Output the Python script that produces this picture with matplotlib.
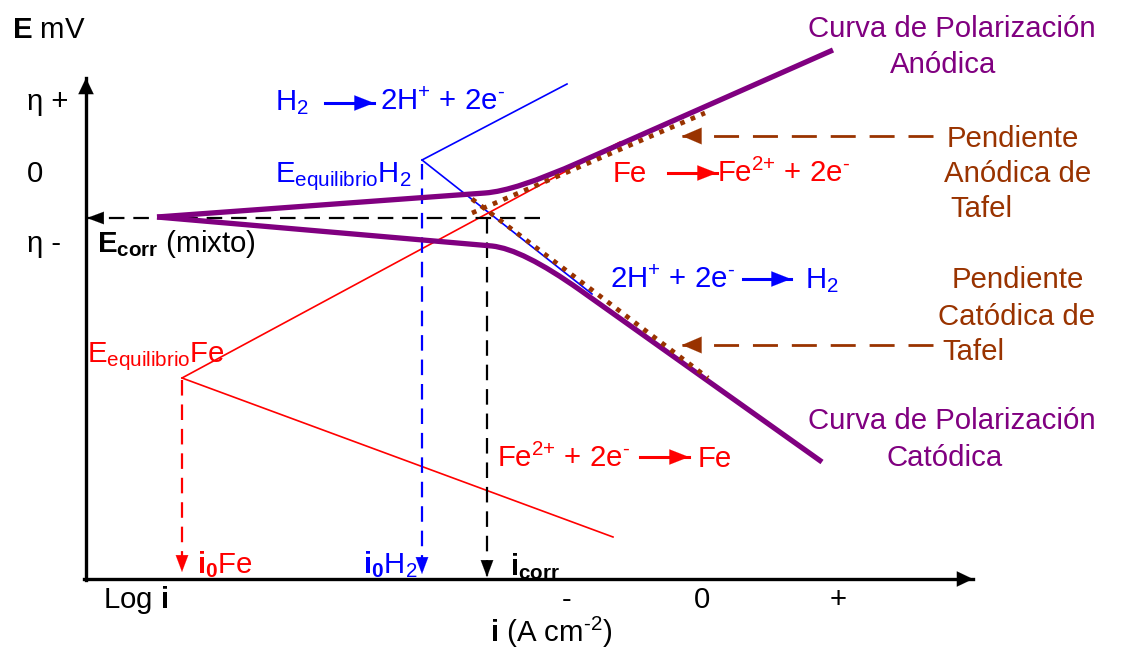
import matplotlib
matplotlib.use('Agg')
import matplotlib.pyplot as plt
from matplotlib.path import Path
from matplotlib.patches import PathPatch

plt.rcParams['font.family'] = ['Liberation Sans', 'DejaVu Sans']
plt.rcParams['mathtext.fontset'] = 'custom'
plt.rcParams['mathtext.rm'] = 'Liberation Sans'
plt.rcParams['mathtext.it'] = 'Liberation Sans:italic'
plt.rcParams['mathtext.bf'] = 'Liberation Sans:bold'

# Evans diagram, in picture units (x = log i to the right, y = E, downward)
anodic_x = [157, 485, 515, 580, 833]
anodic_y = [217, 193, 191, 162, 50]
cathodic_x = [157, 492, 522, 580, 822]
cathodic_y = [217, 246, 249, 290, 462]
h2_anodic_x = [422, 567]
h2_anodic_y = [160, 84]
h2_cathodic_x = [422, 592]
h2_cathodic_y = [160, 294]
fe_anodic_x = [182, 620]
fe_anodic_y = [378, 142]
fe_cathodic_x = [182, 613]
fe_cathodic_y = [378, 537]
tafel_an_x = [472, 705]
tafel_an_y = [213, 113]
tafel_cat_x = [472, 708]
tafel_cat_y = [199, 378]
e_corr = 218
i0_fe, i0_h2, i_corr = 182, 422, 487
x_ticks = ['-', '0', '+']
y_ticks = ['η +', '0', 'η -']

PURPLE = '#800080'
BROWN = '#993300'
FS = 21.2

fig = plt.figure(figsize=(11.27, 6.48), dpi=100)
ax = fig.add_axes([0, 0, 1, 1])
ax.set_xlim(0, 1127)
ax.set_ylim(648, 0)
ax.axis('off')


def arrow(x0, y0, x1, y1, color, lw=2.0, hl=1.1, hw=0.45, dashes=None, z=2):
    # shaft as a line, then a short solid arrow for the head
    line, = ax.plot([x0, x1], [y0, y1], color=color, lw=lw, zorder=z)
    if dashes:
        line.set_dashes(dashes)
    dx, dy = x1 - x0, y1 - y0
    n = (dx * dx + dy * dy) ** 0.5
    ax.annotate('', xy=(x1, y1), xytext=(x1 - dx / n * 3, y1 - dy / n * 3),
                arrowprops=dict(arrowstyle='-|>,head_length=%g,head_width=%g' % (hl, hw),
                                color=color, lw=0.1, shrinkA=0, shrinkB=0,
                                mutation_scale=10), zorder=z)


# axes
arrow(86, 580, 86, 78, 'black', lw=2.4, hl=1.15, hw=0.55)
arrow(84, 579, 973, 579, 'black', lw=2.4, hl=1.15, hw=0.55)

# thin Tafel lines
ax.plot(h2_anodic_x, h2_anodic_y, color='blue', lw=1.2)
ax.plot(h2_cathodic_x, h2_cathodic_y, color='blue', lw=1.2)
ax.plot(fe_anodic_x, fe_anodic_y, color='red', lw=1.2)
ax.plot(fe_cathodic_x, fe_cathodic_y, color='red', lw=1.2)

# dashed projections
arrow(540, e_corr, 87, e_corr, 'black', lw=1.6, hl=1.2, hw=0.45, dashes=(7, 4))
arrow(i_corr, e_corr, i_corr, 577, 'black', lw=1.6, hl=1.2, hw=0.45, dashes=(7, 4))
arrow(i0_h2, h2_anodic_y[0] + 4, i0_h2, 574, 'blue', lw=1.6, hl=1.2, hw=0.45, dashes=(7, 4))
arrow(i0_fe, fe_anodic_y[0] + 2, i0_fe, 572, 'red', lw=1.6, hl=1.2, hw=0.45, dashes=(7, 4))

# polarization curves
codes = [Path.MOVETO, Path.LINETO, Path.CURVE3, Path.CURVE3, Path.LINETO]
for xs, ys in [(anodic_x, anodic_y), (cathodic_x, cathodic_y)]:
    p = Path(list(zip(xs, ys)), codes)
    ax.add_patch(PathPatch(p, fill=False, edgecolor=PURPLE, lw=3.8, capstyle='butt', zorder=3))

# Tafel slope extrapolations (square dots)
for xs, ys in [(tafel_an_x, tafel_an_y), (tafel_cat_x, tafel_cat_y)]:
    ax.plot(xs, ys, color=BROWN, lw=3.4, ls=(0, (1, 1.4)), zorder=4)

# brown pointer arrows
arrow(933, 136, 682, 136, BROWN, lw=2.0, hl=1.4, hw=0.6, dashes=(9, 5))
arrow(933, 345, 682, 345, BROWN, lw=2.0, hl=1.4, hw=0.6, dashes=(9, 5))

# reaction arrows in labels
arrow(325, 103, 374, 103, 'blue', lw=2.2, hl=1.4, hw=0.55)
arrow(743, 279, 791, 279, 'blue', lw=2.2, hl=1.4, hw=0.55)
arrow(668, 173, 717, 173, 'red', lw=2.2, hl=1.4, hw=0.55)
arrow(640, 457, 689, 457, 'red', lw=2.2, hl=1.4, hw=0.55)


def txt(x, y, s, color='black', ha='left', **kw):
    ax.text(x, y, s, color=color, fontsize=FS, ha=ha, va='baseline', **kw)


# axis labels and ticks
txt(12, 38, r'$\mathbf{E}$ mV')
for lab, yb in zip(y_ticks, [110, 182, 252]):
    txt(27, yb, lab)
txt(97, 252, r'$\mathbf{E_{corr}}$ (mixto)')
txt(103, 608, r'Log $\mathbf{i}$')
for lab, xc in zip(x_ticks, [567, 702, 838]):
    txt(xc, 608, lab, ha='center')
txt(490, 642, r'$\mathbf{i}$ (A cm$^{\text{-2}}$)')

# reactions
txt(275, 110, r'H$_2$', color='blue')
txt(380, 110, r'2H$^{+}$ + 2e$^{\text{-}}$', color='blue')
txt(275, 182, r'E$_{\mathrm{equilibrio}}$H$_2$', color='blue')
txt(610, 288, r'2H$^{+}$ + 2e$^{\text{-}}$', color='blue')
txt(805, 288, r'H$_2$', color='blue')
txt(613, 182, 'Fe', color='red')
txt(717, 182, r'Fe$^{2{+}}$ + 2e$^{\text{-}}$', color='red')
txt(497, 467, r'Fe$^{2{+}}$ + 2e$^{\text{-}}$', color='red')
txt(698, 467, 'Fe', color='red')
txt(87, 362, r'E$_{\mathrm{equilibrio}}$Fe', color='red')
txt(197, 573, r'$\mathbf{i_0}$Fe', color='red')
txt(363, 573, r'$\mathbf{i_0}$H$_2$', color='blue')
txt(510, 575, r'$\mathbf{i_{corr}}$')

# curve labels
txt(952, 37, 'Curva de Polarización', color=PURPLE, ha='center')
txt(943, 73, 'Anódica', color=PURPLE, ha='center')
txt(952, 429, 'Curva de Polarización', color=PURPLE, ha='center')
txt(945, 466, 'Catódica', color=PURPLE, ha='center')
txt(947, 147, 'Pendiente', color=BROWN)
txt(944, 182, 'Anódica de', color=BROWN)
txt(950, 217, 'Tafel', color=BROWN)
txt(952, 288, 'Pendiente', color=BROWN)
txt(938, 325, 'Catódica de', color=BROWN)
txt(942, 360, 'Tafel', color=BROWN)

fig.savefig('out.png', dpi=100)
